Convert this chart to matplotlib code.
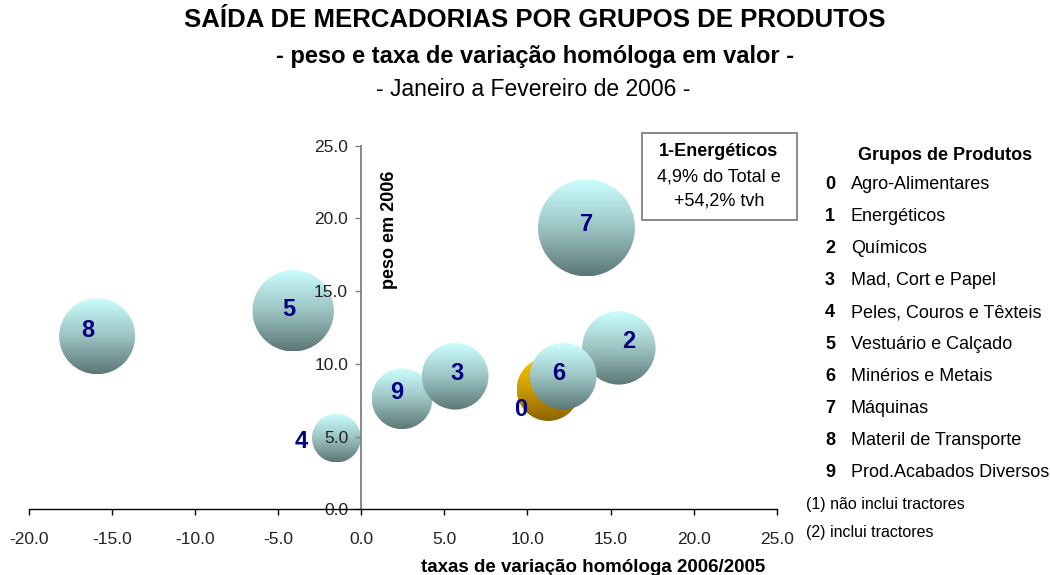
import numpy as np
import matplotlib
matplotlib.use('Agg')
import matplotlib.pyplot as plt
from matplotlib.patches import Ellipse, Rectangle
from matplotlib.colors import LinearSegmentedColormap

# data (groups in drawing order, back to front)
codes = [8, 5, 4, 9, 3, 0, 2, 6, 7]
tvh = [-15.9, -4.1, -1.5, 2.45, 5.65, 11.25, 15.5, 12.15, 13.55]   # taxa de variação homóloga
peso = [11.9, 13.65, 4.9, 7.6, 9.15, 8.25, 11.1, 9.15, 19.35]      # peso em 2006 (também tamanho da bolha)

grupos = ['Agro-Alimentares', 'Energéticos', 'Químicos', 'Mad, Cort e Papel',
          'Peles, Couros e Têxteis', 'Vestuário e Calçado', 'Minérios e Metais',
          'Máquinas', 'Materil de Transporte', 'Prod.Acabados Diversos']
notas = ['(1) não inclui tractores', '(2) inclui tractores']
caixa = ['1-Energéticos', '4,9% do Total e', '+54,2% tvh']

xticks = np.arange(-20, 26, 5)
yticks = np.arange(0, 26, 5)

# label offsets in points for each bubble number
lab_off = {8: (-6.8, 4.3), 5: (-2.9, 0.7), 4: (-25.6, -2.7), 9: (-4.1, 4.3),
           3: (1.2, 2.2), 0: (-19.8, -14.4), 2: (6.8, 4.5), 6: (-3.6, 2.2), 7: (0, 2.2)}

W, H = 1050, 575
FONT = 'Liberation Sans'
plt.rcParams['font.family'] = FONT

fig = plt.figure(figsize=(W / 100, H / 100), dpi=100)

def fx(px):
    return px / W

def fy(py):
    return 1 - py / H

ax = fig.add_axes([fx(29), fy(509.3), (776.7 - 29) / W, (509.3 - 145.7) / H])
ax.set_xlim(-20, 25)
ax.set_ylim(0, 25)
# spine position first: moving the spine resets the ticks
ax.spines['top'].set_visible(False)
ax.spines['right'].set_visible(False)
ax.spines['left'].set_position(('data', 0))
ax.spines['left'].set_color('#808080')
ax.spines['left'].set_linewidth(1.3)
ax.spines['bottom'].set_color('black')
ax.spines['bottom'].set_linewidth(1.0)
ax.set_xticks(xticks)
ax.set_yticks(yticks)
ax.set_xticklabels(['%.1f' % v for v in xticks], fontsize=12.5, color='#222222')
ax.set_yticklabels(['%.1f' % v for v in yticks], fontsize=12.5, color='#222222')
ax.tick_params(axis='x', direction='out', length=4, width=1, pad=12, color='black')
ax.tick_params(axis='y', direction='out', length=4.5, width=1, pad=5, color='#808080')
ax.patch.set_visible(False)

# pixel scale of the data units
p0 = ax.transData.transform((0, 0))
p1 = ax.transData.transform((1, 1))
sx, sy = p1[0] - p0[0], p1[1] - p0[1]
k = 121.5  # bubble area scale, px^2 per unit of peso

cmap_blue = LinearSegmentedColormap.from_list('b', ['#5b7775', '#9cc4c3', '#ccffff'])
cmap_gold = LinearSegmentedColormap.from_list('g', ['#8a6400', '#cc9a00', '#f7c800'])
grad = np.linspace(0, 1, 256).reshape(-1, 1)

for i, (c, x, y) in enumerate(zip(codes, tvh, peso)):
    r = np.sqrt(k * y)
    w, h = 2 * r / sx, 2 * r / sy
    ell = Ellipse((x, y), w, h, transform=ax.transData, facecolor='none', edgecolor='none')
    ax.add_patch(ell)
    cm = cmap_gold if c == 0 else cmap_blue
    im = ax.imshow(grad, extent=[x - w / 2, x + w / 2, y - h / 2, y + h / 2],
                   origin='lower', cmap=cm, aspect='auto', zorder=1 + i * 0.01,
                   interpolation='bilinear')
    im.set_clip_path(ell)
    dx, dy = lab_off[c]
    ax.annotate(str(c), (x, y), xytext=(dx, dy), textcoords='offset points',
                ha='center', va='center', fontsize=17, fontweight='bold',
                color='#000080', zorder=3)

ax.set_xlim(-20, 25)
ax.set_ylim(0, 25)

# titles
fig.text(fx(535), fy(20), 'SAÍDA DE MERCADORIAS POR GRUPOS DE PRODUTOS',
         ha='center', va='center', fontsize=18.5, fontweight='bold')
fig.text(fx(535), fy(57), '- peso e taxa de variação homóloga em valor -',
         ha='center', va='center', fontsize=17, fontweight='bold')
fig.text(fx(533), fy(90), '- Janeiro a Fevereiro de 2006 -',
         ha='center', va='center', fontsize=16.5)

# axis titles
fig.text(fx(389), fy(230), 'peso em 2006', rotation=90, ha='center', va='center',
         fontsize=13, fontweight='bold')
fig.text(fx(593), fy(567), 'taxas de variação homóloga 2006/2005', ha='center',
         va='center', fontsize=13.5, fontweight='bold')

# annotation box
fig.add_artist(Rectangle((fx(642), fy(220)), (797 - 642) / W, (220 - 133) / H,
                         transform=fig.transFigure, facecolor='white',
                         edgecolor='#808080', linewidth=1.3))
fig.text(fx(719), fy(152), caixa[0], ha='center', va='center', fontsize=13, fontweight='bold')
fig.text(fx(719), fy(177), caixa[1], ha='center', va='center', fontsize=13)
fig.text(fx(719), fy(201), caixa[2], ha='center', va='center', fontsize=13)

# legend
fig.text(fx(945), fy(155), 'Grupos de Produtos', ha='center', va='center',
         fontsize=13, fontweight='bold')
for j, nome in enumerate(grupos):
    yy = 185 + j * 31.9
    fig.text(fx(830), fy(yy), str(j), ha='center', va='center', fontsize=13, fontweight='bold')
    fig.text(fx(851), fy(yy), nome, ha='left', va='center', fontsize=13)
for j, nota in enumerate(notas):
    fig.text(fx(806), fy(505 + j * 28), nota, ha='left', va='center', fontsize=11.5)

fig.savefig('out.png', dpi=100)
